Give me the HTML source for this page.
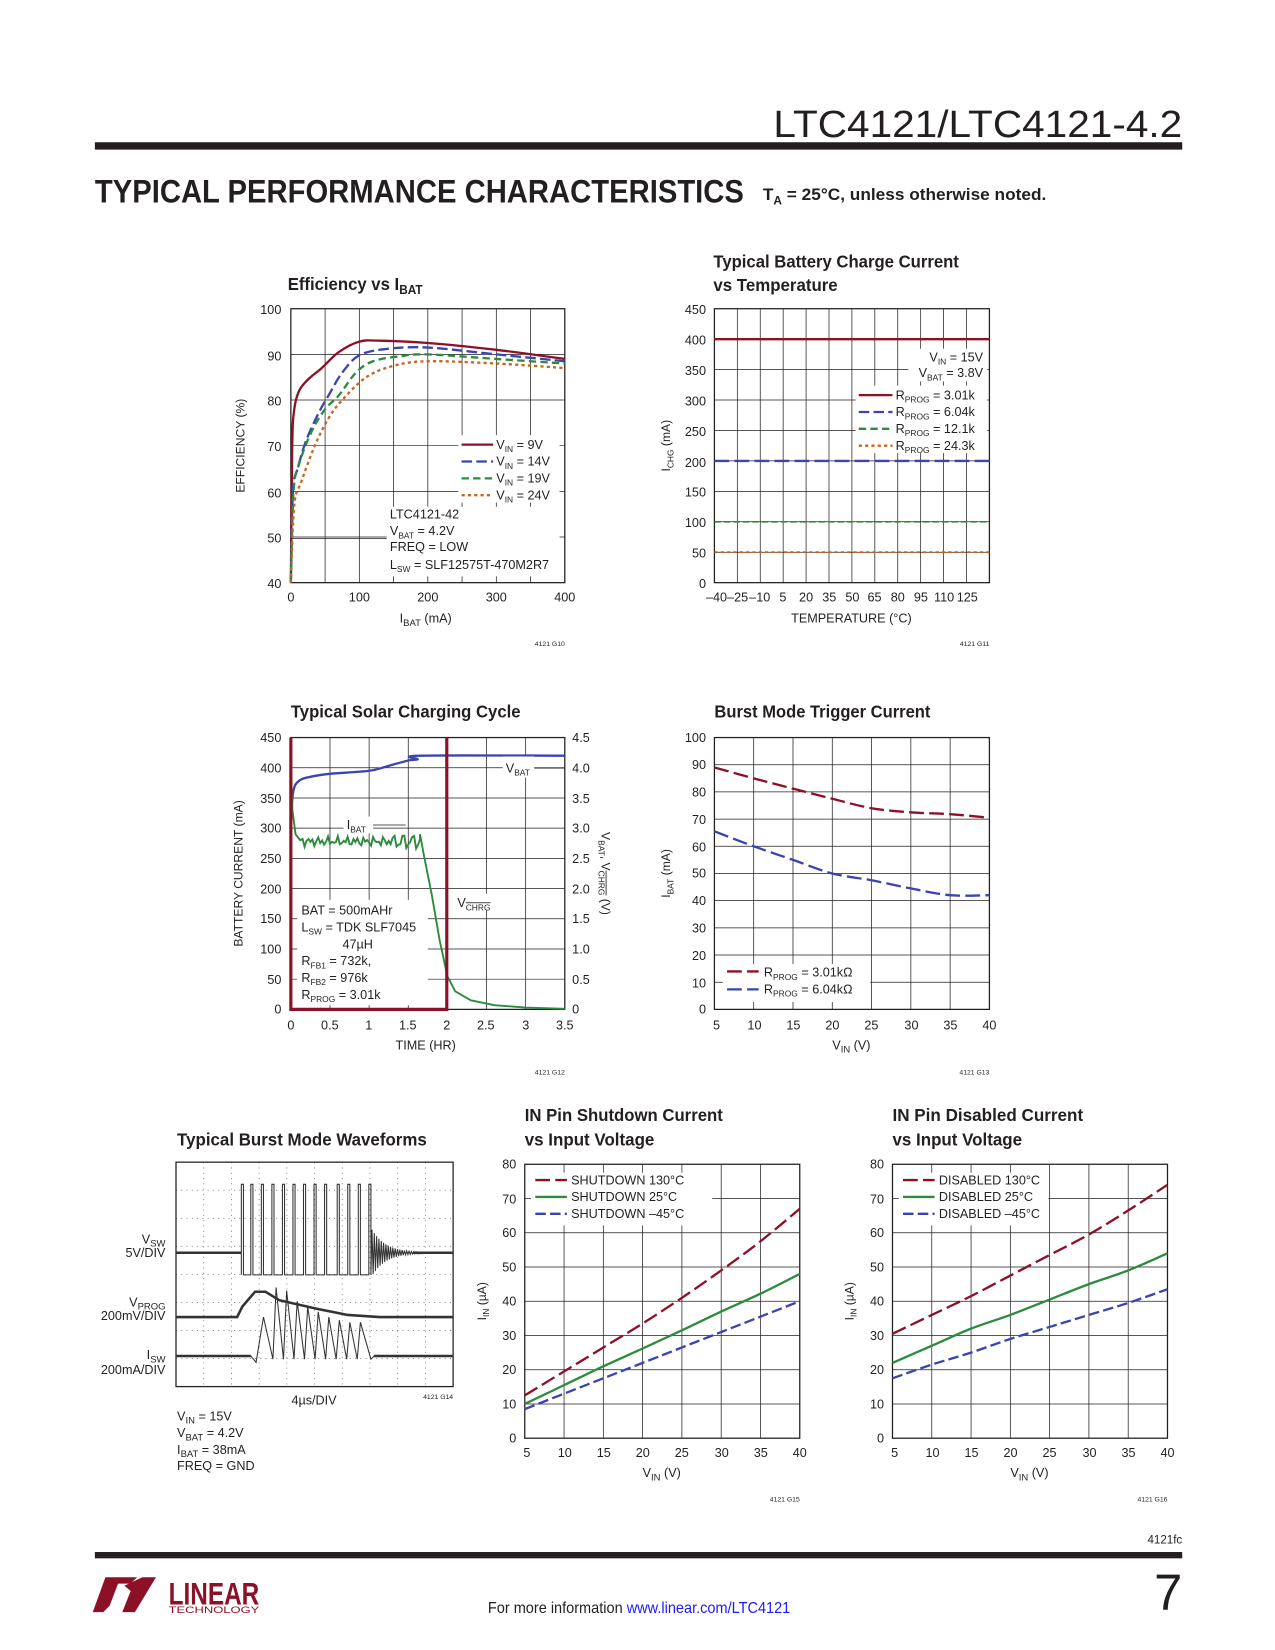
<!DOCTYPE html>
<html><head><meta charset="utf-8"><style>
html,body{margin:0;padding:0;background:#fff;}
svg{display:block;}
text{font-family:"Liberation Sans Narrow","Liberation Sans",sans-serif;fill:#231f20;}
.t{font-size:12px;}
.h{font-size:17px;font-weight:bold;}
.s{font-size:11.5px;}
.sm{font-size:6.5px;}
</style></head><body>
<svg id="s" width="1275" height="1650" viewBox="0 0 1210 1566" xmlns="http://www.w3.org/2000/svg">
<g id="grids"></g>
<g id="curves"></g>
<!-- header -->
<text x="1122" y="130" text-anchor="end" style="font-family:'Liberation Sans',sans-serif;font-size:36px;font-weight:300;" textLength="388" lengthAdjust="spacingAndGlyphs">LTC4121/LTC4121-4.2</text>
<rect x="90" y="135" width="1032" height="7" fill="#231f20"/>
<text x="90" y="192" style="font-size:31px;font-weight:bold;" textLength="616" lengthAdjust="spacingAndGlyphs">TYPICAL PERFORMANCE CHARACTERISTICS</text>
<text x="724" y="190" style="font-size:16px;font-weight:bold;" textLength="269" lengthAdjust="spacingAndGlyphs">T<tspan dy="4" font-size="11">A</tspan><tspan dy="-4"> = 25°C, unless otherwise noted.</tspan></text>

<!-- chart 1 -->
<text x="273" y="275" class="h" textLength="128" lengthAdjust="spacingAndGlyphs">Efficiency vs I<tspan dy="4" font-size="12">BAT</tspan></text>
<g class="t" text-anchor="end">
<text x="267" y="298">100</text><text x="267" y="342">90</text><text x="267" y="385">80</text><text x="267" y="428">70</text><text x="267" y="472">60</text><text x="267" y="515">50</text><text x="267" y="558">40</text>
</g>
<g class="t" text-anchor="middle">
<text x="276" y="571">0</text><text x="341" y="571">100</text><text x="406" y="571">200</text><text x="471" y="571">300</text><text x="536" y="571">400</text>
<text x="404" y="591">I<tspan dy="3" font-size="9">BAT</tspan><tspan dy="-3"> (mA)</tspan></text>
</g>
<text class="s" transform="translate(232,423) rotate(-90)" text-anchor="middle">EFFICIENCY (%)</text>
<text class="sm" x="536" y="613" text-anchor="end">4121 G10</text>

<!-- chart 2 -->
<text x="677" y="254" class="h" textLength="233" lengthAdjust="spacingAndGlyphs">Typical Battery Charge Current</text>
<text x="677" y="276" class="h" textLength="118" lengthAdjust="spacingAndGlyphs">vs Temperature</text>
<g class="t" text-anchor="end">
<text x="670" y="298">450</text><text x="670" y="327">400</text><text x="670" y="356">350</text><text x="670" y="385">300</text><text x="670" y="414">250</text><text x="670" y="443">200</text><text x="670" y="471">150</text><text x="670" y="500">100</text><text x="670" y="529">50</text><text x="670" y="558">0</text>
</g>
<g class="t" text-anchor="middle">
<text x="680" y="571">–40</text><text x="700" y="571">–25</text><text x="721" y="571">–10</text><text x="743" y="571">5</text><text x="765" y="571">20</text><text x="787" y="571">35</text><text x="809" y="571">50</text><text x="830" y="571">65</text><text x="852" y="571">80</text><text x="874" y="571">95</text><text x="896" y="571">110</text><text x="918" y="571">125</text>
<text x="808" y="591">TEMPERATURE (°C)</text>
</g>
<text class="s" transform="translate(636,423) rotate(-90)" text-anchor="middle">I<tspan dy="3" font-size="8">CHG</tspan><tspan dy="-3"> (mA)</tspan></text>
<text class="sm" x="939" y="613" text-anchor="end">4121 G11</text>

<!-- chart 3 -->
<text x="276" y="681" class="h" textLength="218" lengthAdjust="spacingAndGlyphs">Typical Solar Charging Cycle</text>
<g class="t" text-anchor="end">
<text x="267" y="704">450</text><text x="267" y="733">400</text><text x="267" y="762">350</text><text x="267" y="790">300</text><text x="267" y="819">250</text><text x="267" y="848">200</text><text x="267" y="876">150</text><text x="267" y="905">100</text><text x="267" y="934">50</text><text x="267" y="962">0</text>
</g>
<g class="t">
<text x="543" y="704">4.5</text><text x="543" y="733">4.0</text><text x="543" y="762">3.5</text><text x="543" y="790">3.0</text><text x="543" y="819">2.5</text><text x="543" y="848">2.0</text><text x="543" y="876">1.5</text><text x="543" y="905">1.0</text><text x="543" y="934">0.5</text><text x="543" y="962">0</text>
</g>
<g class="t" text-anchor="middle">
<text x="276" y="977">0</text><text x="313" y="977">0.5</text><text x="350" y="977">1</text><text x="387" y="977">1.5</text><text x="424" y="977">2</text><text x="461" y="977">2.5</text><text x="499" y="977">3</text><text x="536" y="977">3.5</text>
<text x="404" y="996">TIME (HR)</text>
</g>
<text class="s" transform="translate(230,829) rotate(-90)" text-anchor="middle">BATTERY CURRENT (mA)</text>
<text class="s" transform="translate(571,829) rotate(90)" text-anchor="middle">V<tspan dy="3" font-size="8">BAT</tspan><tspan dy="-3">, V</tspan><tspan dy="3" font-size="8" text-decoration="overline">CHRG</tspan><tspan dy="-3"> (V)</tspan></text>
<text class="sm" x="536" y="1020" text-anchor="end">4121 G12</text>

<!-- chart 4 -->
<text x="678" y="681" class="h" textLength="205" lengthAdjust="spacingAndGlyphs">Burst Mode Trigger Current</text>
<g class="t" text-anchor="end">
<text x="670" y="704">100</text><text x="670" y="730">90</text><text x="670" y="756">80</text><text x="670" y="782">70</text><text x="670" y="808">60</text><text x="670" y="833">50</text><text x="670" y="859">40</text><text x="670" y="885">30</text><text x="670" y="911">20</text><text x="670" y="937">10</text><text x="670" y="962">0</text>
</g>
<g class="t" text-anchor="middle">
<text x="680" y="977">5</text><text x="716" y="977">10</text><text x="753" y="977">15</text><text x="790" y="977">20</text><text x="827" y="977">25</text><text x="865" y="977">30</text><text x="902" y="977">35</text><text x="939" y="977">40</text>
<text x="808" y="996">V<tspan dy="3" font-size="9">IN</tspan><tspan dy="-3"> (V)</tspan></text>
</g>
<text class="s" transform="translate(636,829) rotate(-90)" text-anchor="middle">I<tspan dy="3" font-size="8">BAT</tspan><tspan dy="-3"> (mA)</tspan></text>
<text class="sm" x="939" y="1020" text-anchor="end">4121 G13</text>

<!-- chart 5 -->
<text x="168" y="1087" class="h" textLength="237" lengthAdjust="spacingAndGlyphs">Typical Burst Mode Waveforms</text>
<g class="t" text-anchor="end">
<text x="157" y="1180">V<tspan dy="3" font-size="9">SW</tspan></text><text x="157" y="1193">5V/DIV</text>
<text x="157" y="1240">V<tspan dy="3" font-size="9">PROG</tspan></text><text x="157" y="1253">200mV/DIV</text>
<text x="157" y="1290">I<tspan dy="3" font-size="9">SW</tspan></text><text x="157" y="1304">200mA/DIV</text>
</g>
<text class="t" x="298" y="1333" text-anchor="middle">4µs/DIV</text>
<text class="sm" x="430" y="1328" text-anchor="end">4121 G14</text>
<g class="t">
<text x="168" y="1348">V<tspan dy="3" font-size="9">IN</tspan><tspan dy="-3"> = 15V</tspan></text>
<text x="168" y="1364">V<tspan dy="3" font-size="9">BAT</tspan><tspan dy="-3"> = 4.2V</tspan></text>
<text x="168" y="1380">I<tspan dy="3" font-size="9">BAT</tspan><tspan dy="-3"> = 38mA</tspan></text>
<text x="168" y="1395">FREQ = GND</text>
</g>

<!-- chart 6 -->
<text x="498" y="1064" class="h" textLength="188" lengthAdjust="spacingAndGlyphs">IN Pin Shutdown Current</text>
<text x="498" y="1087" class="h" textLength="123" lengthAdjust="spacingAndGlyphs">vs Input Voltage</text>
<g class="t" text-anchor="end">
<text x="490" y="1109">80</text><text x="490" y="1142">70</text><text x="490" y="1174">60</text><text x="490" y="1207">50</text><text x="490" y="1239">40</text><text x="490" y="1272">30</text><text x="490" y="1304">20</text><text x="490" y="1337">10</text><text x="490" y="1369">0</text>
</g>
<g class="t" text-anchor="middle">
<text x="500" y="1383">5</text><text x="536" y="1383">10</text><text x="573" y="1383">15</text><text x="610" y="1383">20</text><text x="647" y="1383">25</text><text x="685" y="1383">30</text><text x="722" y="1383">35</text><text x="759" y="1383">40</text>
<text x="628" y="1402">V<tspan dy="3" font-size="9">IN</tspan><tspan dy="-3"> (V)</tspan></text>
</g>
<text class="s" transform="translate(461,1235) rotate(-90)" text-anchor="middle">I<tspan dy="3" font-size="8">IN</tspan><tspan dy="-3"> (µA)</tspan></text>
<text class="sm" x="759" y="1425" text-anchor="end">4121 G15</text>

<!-- chart 7 -->
<text x="847" y="1064" class="h" textLength="181" lengthAdjust="spacingAndGlyphs">IN Pin Disabled Current</text>
<text x="847" y="1087" class="h" textLength="123" lengthAdjust="spacingAndGlyphs">vs Input Voltage</text>
<g class="t" text-anchor="end">
<text x="839" y="1109">80</text><text x="839" y="1142">70</text><text x="839" y="1174">60</text><text x="839" y="1207">50</text><text x="839" y="1239">40</text><text x="839" y="1272">30</text><text x="839" y="1304">20</text><text x="839" y="1337">10</text><text x="839" y="1369">0</text>
</g>
<g class="t" text-anchor="middle">
<text x="849" y="1383">5</text><text x="885" y="1383">10</text><text x="922" y="1383">15</text><text x="959" y="1383">20</text><text x="996" y="1383">25</text><text x="1034" y="1383">30</text><text x="1071" y="1383">35</text><text x="1108" y="1383">40</text>
<text x="977" y="1402">V<tspan dy="3" font-size="9">IN</tspan><tspan dy="-3"> (V)</tspan></text>
</g>
<text class="s" transform="translate(810,1235) rotate(-90)" text-anchor="middle">I<tspan dy="3" font-size="8">IN</tspan><tspan dy="-3"> (µA)</tspan></text>
<text class="sm" x="1108" y="1425" text-anchor="end">4121 G16</text>

<g id="legends"></g>
<g class="t" id="ltext">
<text x="471" y="426">V<tspan dy="3" font-size="8">IN</tspan><tspan dy="-3"> = 9V</tspan></text>
<text x="471" y="442">V<tspan dy="3" font-size="8">IN</tspan><tspan dy="-3"> = 14V</tspan></text>
<text x="471" y="458">V<tspan dy="3" font-size="8">IN</tspan><tspan dy="-3"> = 19V</tspan></text>
<text x="471" y="474">V<tspan dy="3" font-size="8">IN</tspan><tspan dy="-3"> = 24V</tspan></text>
<text x="370" y="492">LTC4121-42</text>
<text x="370" y="508">V<tspan dy="3" font-size="8">BAT</tspan><tspan dy="-3"> = 4.2V</tspan></text>
<text x="370" y="523">FREQ = LOW</text>
<text x="370" y="540">L<tspan dy="3" font-size="8">SW</tspan><tspan dy="-3"> = SLF12575T-470M2R7</tspan></text>
<text x="933" y="343" text-anchor="end">V<tspan dy="3" font-size="8">IN</tspan><tspan dy="-3"> = 15V</tspan></text>
<text x="933" y="358" text-anchor="end">V<tspan dy="3" font-size="8">BAT</tspan><tspan dy="-3"> = 3.8V</tspan></text>
<text x="850" y="379">R<tspan dy="3" font-size="8">PROG</tspan><tspan dy="-3"> = 3.01k</tspan></text>
<text x="850" y="395">R<tspan dy="3" font-size="8">PROG</tspan><tspan dy="-3"> = 6.04k</tspan></text>
<text x="850" y="411">R<tspan dy="3" font-size="8">PROG</tspan><tspan dy="-3"> = 12.1k</tspan></text>
<text x="850" y="427">R<tspan dy="3" font-size="8">PROG</tspan><tspan dy="-3"> = 24.3k</tspan></text>
<text x="480" y="733">V<tspan dy="3" font-size="8">BAT</tspan></text>
<text x="329" y="787">I<tspan dy="3" font-size="8">BAT</tspan></text>
<text x="434" y="861">V<tspan dy="3" font-size="8" text-decoration="overline">CHRG</tspan></text>
<text x="286" y="868">BAT = 500mAHr</text>
<text x="286" y="884">L<tspan dy="3" font-size="8">SW</tspan><tspan dy="-3"> =  TDK SLF7045</tspan></text>
<text x="325" y="900">47µH</text>
<text x="286" y="916">R<tspan dy="3" font-size="8">FB1</tspan><tspan dy="-3"> = 732k,</tspan></text>
<text x="286" y="932">R<tspan dy="3" font-size="8">FB2</tspan><tspan dy="-3"> = 976k</tspan></text>
<text x="286" y="948">R<tspan dy="3" font-size="8">PROG</tspan><tspan dy="-3"> = 3.01k</tspan></text>
<text x="725" y="927">R<tspan dy="3" font-size="8">PROG</tspan><tspan dy="-3"> = 3.01kΩ</tspan></text>
<text x="725" y="943">R<tspan dy="3" font-size="8">PROG</tspan><tspan dy="-3"> = 6.04kΩ</tspan></text>
<text x="542" y="1124">SHUTDOWN 130°C</text>
<text x="542" y="1140">SHUTDOWN 25°C</text>
<text x="542" y="1156">SHUTDOWN –45°C</text>
<text x="891" y="1124">DISABLED 130°C</text>
<text x="891" y="1140">DISABLED 25°C</text>
<text x="891" y="1156">DISABLED –45°C</text>
</g>

<!-- footer -->
<text x="1122" y="1465" text-anchor="end" style="font-size:11px;">4121fc</text>
<rect x="90" y="1473" width="1032" height="6" fill="#231f20"/>
<g fill="#8c1127">
<path d="M100 1497 L130 1497 L124 1503 L112 1503 L104 1524 L98 1530 L88 1530 Z"/>
<path d="M118 1505 L135 1497 L148 1497 L128 1530 L116 1530 L124 1510 Z"/>
</g>
<text x="160" y="1523" style="font-size:30px;font-weight:bold;fill:#8c1127;" textLength="86" lengthAdjust="spacingAndGlyphs">LINEAR</text>
<text x="160" y="1531" style="font-size:9px;fill:#8c1127;" textLength="86" lengthAdjust="spacingAndGlyphs">TECHNOLOGY</text>
<text x="463" y="1531" style="font-size:15px;" textLength="287" lengthAdjust="spacingAndGlyphs">For more information <tspan style="fill:#1a1aff;">www.linear.com/LTC4121</tspan></text>
<text x="1122" y="1528" text-anchor="end" style="font-family:'Liberation Sans',sans-serif;font-size:48px;font-weight:300;">7</text>
</svg>
<script>
var NS="http://www.w3.org/2000/svg";
var G=document.getElementById('grids'),C=document.getElementById('curves'),L=document.getElementById('legends');
function el(p,t,a){var e=document.createElementNS(NS,t);for(var k in a)e.setAttribute(k,a[k]);p.appendChild(e);return e;}
function grid(x,y,w,h,nx,ny,dot){var d="";for(var i=1;i<nx;i++){var xx=x+w*i/nx;d+="M"+xx+" "+y+"V"+(y+h);}for(var j=1;j<ny;j++){var yy=y+h*j/ny;d+="M"+x+" "+yy+"H"+(x+w);}
el(G,'path',{d:d,stroke:dot?'#777':'#231f20','stroke-width':dot?0.8:0.7,fill:'none','stroke-dasharray':dot?'1 4':'none'});
el(G,'rect',{x:x,y:y,width:w,height:h,fill:'none',stroke:'#231f20','stroke-width':1.2});}
function cr(p){var d="M"+p[0][0]+" "+p[0][1];for(var i=0;i<p.length-1;i++){var p0=p[i-1]||p[i],p1=p[i],p2=p[i+1],p3=p[i+2]||p2;
d+="C"+(p1[0]+(p2[0]-p0[0])/6)+" "+(p1[1]+(p2[1]-p0[1])/6)+","+(p2[0]-(p3[0]-p1[0])/6)+" "+(p2[1]-(p3[1]-p1[1])/6)+","+p2[0]+" "+p2[1];}return d;}
var RED='#8c1127',BLU='#3b44b0',GRN='#2e8b3e',ORG='#c8641e';
var DS={solid:'none',dash:'10 4',dash2:'7 4',dot:'3 3',long:'14 5'};
function curve(pts,fx,fy,col,ds,w,sm){var p=pts.map(function(q){return [fx(q[0]),fy(q[1])]});el(C,'path',{d:sm===false?'M'+p.join('L'):cr(p),stroke:col,'stroke-width':w||2.2,fill:'none','stroke-dasharray':DS[ds]});}
function lg(x1,x2,y,col,ds){el(L,'line',{x1:x1,x2:x2,y1:y,y2:y,stroke:col,'stroke-width':2.2,'stroke-dasharray':DS[ds]});}
function wb(x,y,w,h){el(L,'rect',{x:x,y:y,width:w,height:h,fill:'#fff'});}
grid(276,293,260,260,8,6);
var f1x=function(i){return 276+i*0.65},f1y=function(e){return 553-(e-40)*4.333};
curve([[0,40],[2,70],[5,78],[12,82],[25,84.5],[45,87],[70,90.5],[100,92.8],[130,93],[200,92.5],[300,91],[400,89]],f1x,f1y,RED,'solid');
curve([[0,40],[3,60],[10,65],[22,71],[40,77],[55,81],[75,86],[100,89.8],[140,91.2],[200,91.5],[300,90],[400,88.5]],f1x,f1y,BLU,'dash');
curve([[0,40],[4,60],[12,66],[30,73],[50,78],[70,81],[95,86],[120,88.5],[160,89.6],[200,90],[300,89],[400,88]],f1x,f1y,GRN,'dash2');
curve([[0,40],[5,57],[15,62],[35,70],[55,76],[75,80],[110,85],[150,87.5],[200,88.5],[300,88],[400,87]],f1x,f1y,ORG,'dot');
wb(435,413,96,64);wb(367,481,164,66);
el(L,'line',{x1:276,x2:367,y1:511,y2:511,stroke:'#231f20','stroke-width':0.7});
lg(438,468,422,RED,'solid');lg(438,468,438,BLU,'dash');lg(438,468,454,GRN,'dash2');lg(438,468,470,ORG,'dot');
grid(678,293,261,260,12,9);
var f2y=function(v){return 553-v*260/450};
el(C,'line',{x1:678,x2:939,y1:f2y(400),y2:f2y(400),stroke:RED,'stroke-width':2.2});
el(C,'line',{x1:678,x2:939,y1:f2y(200),y2:f2y(200),stroke:BLU,'stroke-width':2.2,'stroke-dasharray':DS.long});
el(C,'line',{x1:678,x2:939,y1:f2y(100),y2:f2y(100),stroke:GRN,'stroke-width':1.6,'stroke-dasharray':'6 3'});
el(C,'line',{x1:678,x2:939,y1:f2y(50),y2:f2y(50),stroke:ORG,'stroke-width':1.8,'stroke-dasharray':'3 3'});
wb(862,331,75,31);wb(812,366,125,64);
lg(815,847,375,RED,'solid');lg(815,847,391,BLU,'dash');lg(815,847,407,GRN,'dash2');lg(815,847,423,ORG,'dot');
grid(276,700,260,258,7,9);
var f3x=function(t){return 276+t*260/3.5},f3y=function(v){return 958-v*258/450};
curve([[0,310],[0.03,360],[0.1,378],[0.25,385],[0.5,390],[1,395],[1.3,405],[1.5,412],[1.62,414],[1.65,420],[3.5,420]],f3x,f3y,BLU,'solid');
var g=[[0,400],[0.02,330],[0.06,290],[0.12,280]];for(var t=0.15;t<1.65;t+=0.025){g.push([t,278+Math.sin(t*97)*5+Math.cos(t*53)*4+(t>1.3?Math.sin(t*200)*7:0)]);}
g.push([1.65,290],[1.7,255],[1.8,190],[1.9,115],[2.0,55],[2.1,30],[2.3,15],[2.6,7],[3.0,3],[3.5,1]);
curve(g,f3x,f3y,GRN,'solid',1.8,false);
wb(282,854,124,100);wb(477,718,30,20);wb(326,775,28,16);wb(431,848,40,16);
el(L,'line',{x1:507,x2:536,y1:729,y2:729,stroke:'#231f20','stroke-width':0.7});
el(L,'line',{x1:354,x2:385,y1:783,y2:783,stroke:'#231f20','stroke-width':0.7});
el(L,'path',{d:'M276 700V958H424V700',stroke:RED,'stroke-width':3,fill:'none'});
grid(678,700,261,258,7,10);
var f4x=function(v){return 678+(v-5)*261/35},f4y=function(i){return 958-i*2.58};
curve([[5,89],[10,85],[15,81.2],[20,77.5],[25,74],[30,72.5],[35,71.8],[40,70.5]],f4x,f4y,RED,'long');
curve([[5,65.5],[10,60],[15,55],[20,50],[25,47.5],[30,44.5],[35,42],[40,42]],f4x,f4y,BLU,'long');
wb(686,915,140,36);lg(690,720,922,RED,'long');lg(690,720,939,BLU,'long');
grid(167,1103,263,213,10,8,true);
var d="M167 1189H229";var xs=[229,238,248,258,268,278,288,298,308,320,330,340,350];
xs.forEach(function(x,i){d+="L"+x+" 1210L"+x+" 1124L"+(x+2)+" 1124L"+(x+2)+" 1210";if(i<xs.length-1)d+="L"+xs[i+1]+" 1210";});
for(var k=0;k<40;k++){var a=22*Math.exp(-k/12);d+="L"+(353+k*1.1)+" "+(1189+(k%2?a:-a));}
d+="L430 1189";
el(C,'path',{d:d,stroke:'#333','stroke-width':1,fill:'none'});
el(C,'path',{d:"M167 1189H229",stroke:'#333','stroke-width':2.4,fill:'none'});
el(C,'path',{d:"M392 1189H430",stroke:'#333','stroke-width':2.4,fill:'none'});
el(C,'path',{d:"M167 1250H225L230 1240L242 1226L252 1226L265 1234L300 1242L330 1248L360 1250H430",stroke:'#333','stroke-width':2.4,fill:'none'});
var px=[262,272,282,292,302,312,322,332,342];
var d2="M167 1287H238L243 1293L250 1250";var hv=[1222,1225,1235,1240,1245,1250,1253,1255,1255];
px.forEach(function(x,i){d2+="L"+(x-3)+" 1290L"+x+" "+hv[i];});d2+="L352 1290L355 1287H430";
el(C,'path',{d:d2,stroke:'#333','stroke-width':1,fill:'none'});
el(C,'path',{d:"M167 1287H238M355 1287H430",stroke:'#333','stroke-width':2.4,fill:'none'});
grid(498,1105,261,260,7,8);
var f6x=function(v){return 498+(v-5)*261/35},f6y=function(i){return 1365-i*3.25};
curve([[5,12.5],[10,19.5],[15,26.5],[20,33.5],[25,41],[30,49],[35,57.5],[40,67]],f6x,f6y,RED,'long');
curve([[5,10],[10,15.5],[15,21],[20,26.2],[25,31.5],[30,37],[35,42.2],[40,48]],f6x,f6y,GRN,'solid');
curve([[5,8.5],[10,13],[15,17.5],[20,22],[25,26.5],[30,31],[35,35.5],[40,40]],f6x,f6y,BLU,'dash');
wb(504,1113,172,50);lg(508,538,1120,RED,'long');lg(508,538,1136,GRN,'solid');lg(508,538,1152,BLU,'dash');
grid(847,1105,261,260,7,8);
var f7x=function(v){return 847+(v-5)*261/35};
curve([[5,30.5],[10,36],[15,41.5],[20,47.5],[25,53.5],[30,59.5],[35,66.5],[40,74]],f7x,f6y,RED,'long');
curve([[5,22],[10,27],[15,32],[20,36],[25,40.5],[30,45],[35,49],[40,54]],f7x,f6y,GRN,'solid');
curve([[5,17.5],[10,21.5],[15,25],[20,29],[25,32.5],[30,36],[35,39.5],[40,43.5]],f7x,f6y,BLU,'dash');
wb(853,1113,142,50);lg(857,887,1120,RED,'long');lg(857,887,1136,GRN,'solid');lg(857,887,1152,BLU,'dash');
document.getElementById('s').appendChild(document.getElementById('ltext'));
</script>
</body></html>
